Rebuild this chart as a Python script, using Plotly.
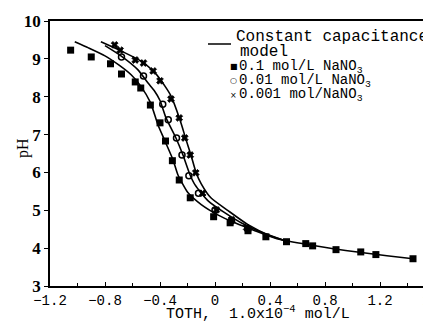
import plotly.graph_objects as go

# ---------------- data ----------------
# measured points, 0.1 mol/L NaNO3 (filled squares)
s1_x = [-1.05, -0.90, -0.76, -0.68, -0.58, -0.54, -0.47, -0.40, -0.36, -0.31, -0.26, -0.18,
        -0.01, 0.11, 0.24, 0.37, 0.52, 0.66, 0.71, 0.88, 1.06, 1.17, 1.44]
s1_y = [9.23, 9.05, 8.87, 8.60, 8.39, 8.23, 7.78, 7.31, 6.83, 6.31, 5.80, 5.33,
        4.83, 4.67, 4.46, 4.30, 4.17, 4.12, 4.06, 3.96, 3.90, 3.83, 3.72]
# 0.01 mol/L NaNO3 (open circles)
s2_x = [-0.68, -0.52, -0.38, -0.34, -0.28, -0.24, -0.19, -0.12, 0.00, 0.12, 0.24]
s2_y = [9.05, 8.55, 7.80, 7.39, 6.91, 6.46, 5.91, 5.45, 5.01, 4.72, 4.50]
# 0.001 mol/NaNO3 (crosses)
s3_x = [-0.73, -0.69, -0.58, -0.52, -0.45, -0.40, -0.32, -0.26, -0.22, -0.18, -0.14, -0.09,
        0.01, 0.12, 0.23]
s3_y = [9.37, 9.23, 8.97, 8.89, 8.68, 8.42, 7.94, 7.44, 6.91, 6.46, 5.99, 5.45,
        5.01, 4.75, 4.54]

# constant capacitance model curves
m1_x = [-1.02, -0.92, -0.80, -0.70, -0.61, -0.54, -0.47, -0.415, -0.364, -0.305, -0.27,
        -0.196, -0.10, 0.02, 0.145, 0.29, 0.45, 0.65, 0.85, 1.05, 1.25, 1.44]
m1_y = [9.45, 9.29, 9.08, 8.84, 8.58, 8.28, 7.85, 7.26, 6.83, 6.33, 5.94,
        5.46, 5.15, 4.88, 4.67, 4.46, 4.25, 4.11, 3.99, 3.89, 3.80, 3.72]
m2_x = [-0.80, -0.684, -0.56, -0.487, -0.44, -0.40, -0.356, -0.284, -0.233, -0.182, -0.145,
        -0.05, 0.073, 0.20, 0.35, 0.50]
m2_y = [9.35, 9.08, 8.71, 8.36, 8.15, 7.90, 7.44, 6.91, 6.46, 5.94, 5.67,
        5.25, 4.93, 4.65, 4.40, 4.21]
m3_x = [-0.83, -0.684, -0.538, -0.436, -0.364, -0.32, -0.255, -0.21, -0.175, -0.138, -0.10,
        -0.03, 0.095, 0.24, 0.40, 0.50]
m3_y = [9.45, 9.21, 8.94, 8.63, 8.28, 8.02, 7.39, 6.86, 6.46, 6.00, 5.70,
        5.33, 4.99, 4.62, 4.33, 4.21]

x_ticks = [-1.2, -0.8, -0.4, 0, 0.4, 0.8, 1.2, 1.6]
x_ticktext = ["−1.2", "−0.8", "−0.4", "0", "0.4", "0.8", "1.2", "1.6"]
y_ticks = [3, 4, 5, 6, 7, 8, 9, 10]

legend_line = "Constant capacitance"
legend_line2 = "model"
legend_items = [("■", "0.1 mol/L NaNO<sub>3</sub>"),
                ("○", "0.01 mol/L NaNO<sub>3</sub>"),
                ("×", "0.001 mol/NaNO<sub>3</sub>")]
x_title = "TOTH,  1.0x10<sup>−4</sup> mol/L"
y_title = "pH"

# ---------------- figure ----------------
W, H = 431, 333
L, R, T, B = 42, 4, 13, 55
PW, PH = W - L - R, H - T - B


def px(x):
    return (x - L) / PW


def py(y):
    return (H - B - y) / PH


fig = go.Figure()
for mx, my in [(m1_x, m1_y), (m2_x, m2_y), (m3_x, m3_y)]:
    fig.add_trace(go.Scatter(x=mx, y=my, mode="lines",
                             line=dict(color="black", width=1.6, shape="spline", smoothing=0.6),
                             showlegend=False, hoverinfo="skip"))

fig.add_trace(go.Scatter(x=s1_x, y=s1_y, mode="markers", showlegend=False,
                         marker=dict(symbol="square", size=7, color="black")))
fig.add_trace(go.Scatter(x=s2_x, y=s2_y, mode="markers", showlegend=False,
                         marker=dict(symbol="circle-open", size=6, color="black",
                                     line=dict(width=1.5, color="black"))))
fig.add_trace(go.Scatter(x=s3_x, y=s3_y, mode="markers", showlegend=False,
                         marker=dict(symbol="x", size=6, color="black",
                                     line=dict(width=0.8, color="black"))))

mono = "Liberation Mono"
serif = "Liberation Serif"

ann = []
ann.append(dict(x=px(226), y=py(29), text=legend_line, xanchor="left", yanchor="middle",
                font=dict(family=mono, size=16, color="black")))
ann.append(dict(x=px(230), y=py(44), text=legend_line2, xanchor="left", yanchor="middle",
                font=dict(family=mono, size=16, color="black")))
for i, (sym, txt) in enumerate(legend_items):
    yy = [59, 73, 87][i]
    ann.append(dict(x=px(220), y=py(yy), text=sym, xanchor="left", yanchor="middle",
                    font=dict(family="DejaVu Sans", size=8, color="black")))
    ann.append(dict(x=px(229), y=py(yy), text=txt, xanchor="left", yanchor="middle",
                    font=dict(family=mono, size=14, color="black")))
ann.append(dict(x=px(250), y=py(305), text=x_title, xanchor="center", yanchor="middle",
                font=dict(family=mono, size=15, color="black")))
ann.append(dict(x=px(15), y=py(140), text=y_title, textangle=-90, xanchor="center",
                yanchor="middle", font=dict(family=serif, size=16, color="black")))
for a in ann:
    a.update(xref="paper", yref="paper", showarrow=False)

fig.update_layout(
    width=W, height=H,
    margin=dict(l=L, r=R, t=T, b=B, autoexpand=False),
    paper_bgcolor="white", plot_bgcolor="white",
    annotations=ann,
    shapes=[dict(type="line", xref="paper", yref="paper", x0=px(200), x1=px(223),
                 y0=py(36), y1=py(36), line=dict(color="black", width=1.5))],
)
fig.update_xaxes(range=[-1.2, 1.6], tickvals=x_ticks, ticktext=x_ticktext,
                 automargin=False, ticklabeloverflow="allow",
                 showline=True, mirror=True, linecolor="black", linewidth=1.5,
                 ticks="inside", ticklen=4, tickcolor="black", showgrid=False, zeroline=False,
                 minor=dict(dtick=0.2, tick0=-1.2, ticks="inside", ticklen=3, tickcolor="black"),
                 tickfont=dict(family=mono, size=14, color="black"))
fig.update_yaxes(range=[3, 10], tickvals=y_ticks, automargin=False,
                 showline=True, mirror=True, linecolor="black", linewidth=1.5,
                 ticks="outside", ticklen=4, tickcolor="black", showgrid=False, zeroline=False,
                 tickfont=dict(family=serif, size=17, color="black", weight="bold"))

fig.write_html("out.html")
